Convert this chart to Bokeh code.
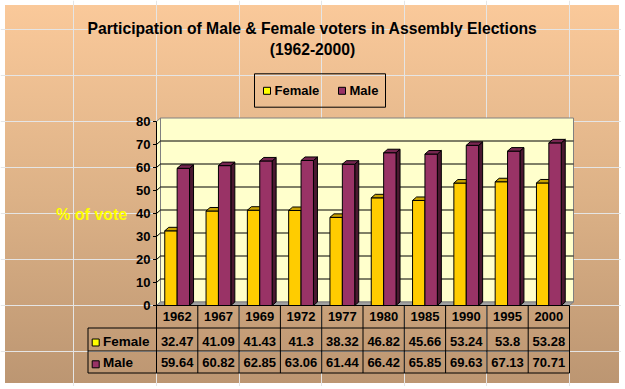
from bokeh.plotting import figure
from bokeh.models import Range1d
from bokeh.embed import file_html
from bokeh.resources import INLINE
from bokeh.core.properties import value

# ---------------- data ----------------
years = ["1962", "1967", "1969", "1972", "1977", "1980", "1985", "1990", "1995", "2000"]
female = [32.47, 41.09, 41.43, 41.3, 38.32, 46.82, 45.66, 53.24, 53.8, 53.28]
male = [59.64, 60.82, 62.85, 63.06, 61.44, 66.42, 65.85, 69.63, 67.13, 70.71]
y_ticks = [0, 10, 20, 30, 40, 50, 60, 70, 80]
series_names = ["Female", "Male"]
title_lines = ["Participation of Male & Female voters in Assembly Elections", "(1962-2000)"]
y_label = "% of vote"

# ---------------- layout (page pixels -> data units) ----------------
W, H = 621, 386
OX, OY = 0, 0
X0, XS = 156.0, 41.3     # page x of first category edge, px per category
Y0, YS = 305.0, 2.3      # page y of value 0, px per unit
TS = 4.5                 # text baseline correction (px, upward)


def dx(px):
    return (px - X0) / XS


def dy(py):
    return (Y0 - py) / YS


def ty(py):
    return dy(py - TS)


n = len(years)
DXu = 4.0 / XS
DYu = 3.5 / YS
TOP = y_ticks[-1]

FONT = value("Liberation Sans")

F_FRONT, F_TOP, F_SIDE = "#FFCC00", "#C9A200", "#7F6600"
M_FRONT, M_TOP, M_SIDE = "#993366", "#762650", "#4A1830"
LEG_COLORS = ["#FFFF00", "#993366"]

p = figure(width=W, height=H,
           x_range=Range1d(dx(OX), dx(OX + W)),
           y_range=Range1d(dy(OY + H), dy(OY)),
           output_backend="svg", toolbar_location=None, tools="",
           x_axis_location=None, y_axis_location=None, min_border=0)
p.background_fill_color = None
p.border_fill_color = None
p.outline_line_color = None
p.styles = {
    "background-image": "linear-gradient(to bottom, #FAC99A 0%, #DDB287 50%, #BC9672 100%)",
    "background-position": "5px 5px",
    "background-size": "614px 378px",
    "background-repeat": "no-repeat",
    "background-color": "white",
}

# ---------------- 3D walls ----------------
p.quad(left=[DXu], right=[n + DXu], bottom=[DYu], top=[TOP + DYu],
       fill_color="#FFFFCC", line_color="#808080", line_width=1)
p.patch([0, DXu, DXu, 0], [0, DYu, TOP + DYu, TOP],
        fill_color="#FFFFCC", line_color="#808080", line_width=1)
p.patch([0, n, n + DXu, DXu], [0, 0, DYu, DYu],
        fill_color="#A0A0A0", line_color="#808080", line_width=1)

# grid lines
g = y_ticks[1:-1]
p.segment(x0=[DXu] * len(g), y0=[t + DYu for t in g], x1=[n + DXu] * len(g),
          y1=[t + DYu for t in g], line_color="black", line_width=1)
p.segment(x0=[0] * len(g), y0=g, x1=[DXu] * len(g),
          y1=[t + DYu for t in g], line_color="black", line_width=1)

# ---------------- bars ----------------
def bars(vals, l_off, r_off, front, top, side):
    ls = [i + l_off for i in range(n)]
    rs = [i + r_off for i in range(n)]
    p.patches(xs=[[r, r + DXu, r + DXu, r] for r in rs],
              ys=[[0, DYu, v + DYu, v] for v in vals],
              fill_color=side, line_color="black", line_width=1)
    p.quad(left=ls, right=rs, bottom=[0] * n, top=vals,
           fill_color=front, line_color="black", line_width=1)
    p.patches(xs=[[l, l + DXu, r + DXu, r] for l, r in zip(ls, rs)],
              ys=[[v, v + DYu, v + DYu, v] for v in vals],
              fill_color=top, line_color="black", line_width=1)


bars(female, 0.20, 0.50, F_FRONT, F_TOP, F_SIDE)
bars(male, 0.50, 0.80, M_FRONT, M_TOP, M_SIDE)

# ---------------- y axis ----------------
p.segment(x0=[0], y0=[0], x1=[0], y1=[TOP], line_color="black", line_width=1)
p.segment(x0=[-3.5 / XS] * len(y_ticks), y0=y_ticks, x1=[0] * len(y_ticks), y1=y_ticks,
          line_color="black", line_width=1)
p.text(x=[dx(150)] * len(y_ticks), y=y_ticks, text=[str(t) for t in y_ticks],
       text_align="right", text_baseline="alphabetic", y_offset=4.6 - TS,
       text_font=FONT, text_font_style="bold", text_font_size="13px", text_color="black")

p.text(x=[dx(55.5)], y=[ty(218.3)], text=[y_label], text_align="left",
       text_baseline="alphabetic", text_font=FONT, text_font_style="bold",
       text_font_size="16px", text_color="#FFFF00")

# ---------------- title ----------------
p.text(x=[dx(312), dx(312)], y=[ty(32.7), ty(53.4)], text=title_lines,
       text_align="center", text_baseline="alphabetic", text_font=FONT,
       text_font_style="bold", text_font_size="15.7px", text_color="black")

# ---------------- legend ----------------
p.quad(left=[dx(254)], right=[dx(385)], bottom=[dy(106.7)], top=[dy(73.3)],
       fill_color=None, line_color="black", line_width=1)
p.scatter(x=[dx(266.5), dx(341.5)], y=[dy(90.3), dy(90.3)], marker="square", size=7,
          fill_color=LEG_COLORS, line_color="black", line_width=1)
p.text(x=[dx(274), dx(349)], y=[ty(94.2), ty(94.2)], text=series_names,
       text_align="left", text_baseline="alphabetic", text_font=FONT,
       text_font_style="bold", text_font_size="13px", text_color="black")

# ---------------- data table ----------------
R0, R1, R2, R3 = 305.0, 327.5, 350.5, 372.5
LX = 87.5
hx0 = [0, dx(LX), dx(LX), dx(LX)]
hy = [dy(R0), dy(R1), dy(R2), dy(R3)]
p.segment(x0=hx0, y0=hy, x1=[n] * 4, y1=hy, line_color="black", line_width=1)
p.segment(x0=list(range(n + 1)), y0=[dy(R0)] * (n + 1), x1=list(range(n + 1)),
          y1=[dy(R3)] * (n + 1), line_color="black", line_width=1)
p.segment(x0=[dx(LX)], y0=[dy(R1)], x1=[dx(LX)], y1=[dy(R3)], line_color="black", line_width=1)

centers = [i + 0.5 for i in range(n)]
tstyle = dict(text_align="center", text_baseline="alphabetic", text_font=FONT,
              text_font_style="bold", text_font_size="13px", text_color="black")
p.text(x=centers, y=[ty(320.8)] * n, text=years, **tstyle)
p.text(x=centers, y=[ty(345.3)] * n, text=[str(v) for v in female], **tstyle)
p.text(x=centers, y=[ty(366.8)] * n, text=[str(v) for v in male], **tstyle)

p.scatter(x=[dx(95.2), dx(95.2)], y=[dy(342), dy(363.8)], marker="square", size=7,
          fill_color=LEG_COLORS, line_color="black", line_width=1)
p.text(x=[dx(102.5), dx(102.5)], y=[ty(345.3), ty(366.8)], text=series_names,
       text_align="left", text_baseline="alphabetic", text_font=FONT,
       text_font_style="bold", text_font_size="13.5px", text_color="black")

open("out.html", "w").write(file_html(p, INLINE))
